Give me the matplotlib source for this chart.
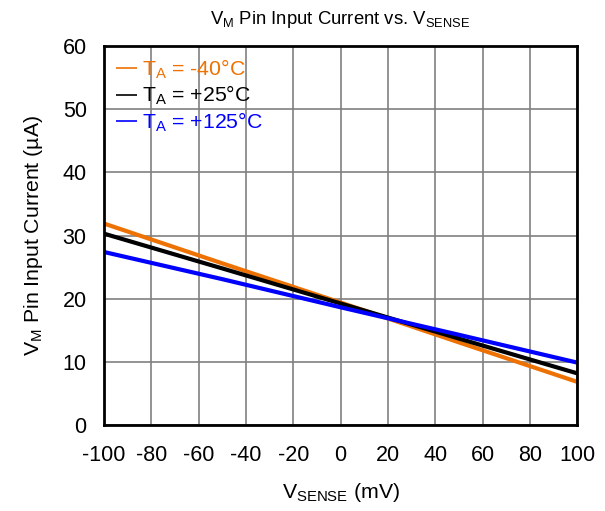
import numpy as np
import matplotlib.pyplot as plt

plt.rcParams['font.family'] = ['Liberation Sans', 'DejaVu Sans']
plt.rcParams['axes.unicode_minus'] = False

# V_SENSE (mV) and pin current (uA) per ambient temperature
vsense = [-100, -50, 0, 50, 100]
i_m40 = [31.9, 25.6, 19.4, 13.1, 6.85]
i_25 = [30.3, 24.8, 19.25, 13.7, 8.2]
i_125 = [27.4, 23.1, 18.65, 14.3, 9.9]

labels = [r'$\mathregular{T_A}$ = -40°C', r'$\mathregular{T_A}$ = +25°C', r'$\mathregular{T_A}$ = +125°C']
colors = ['#ee7203', 'black', 'blue']

fig = plt.figure(figsize=(6.05, 5.11), dpi=100)
ax = fig.add_axes([0.172, 0.168, 0.782, 0.742])

for y, c, lab in zip([i_m40, i_25, i_125], colors, labels):
    ax.plot(vsense, y, color=c, lw=3, label=lab, solid_capstyle='butt')

ax.set_xlim(-100, 100)
ax.set_ylim(0, 60)
ax.set_xticks(np.arange(-100, 101, 20))
ax.set_yticks(np.arange(0, 61, 10))
ax.grid(True, color='#808080', lw=1.2)
ax.set_axisbelow(True)
ax.tick_params(axis='x', length=0, labelsize=15.5, pad=14)
ax.tick_params(axis='y', length=0, labelsize=15.5, pad=12.5)
for s in ax.spines.values():
    s.set_linewidth(2)

ax.set_title(r'$\mathregular{V_M}$ Pin Input Current vs. $\mathregular{V_{SENSE}}$', fontsize=13.3, pad=16)
ax.set_xlabel(r'$\mathregular{V_{SENSE}}$ (mV)', fontsize=15.3, labelpad=11)
ax.set_ylabel(r'$\mathregular{V_M}$ Pin Input Current (µA)', fontsize=15.3, labelpad=13)

leg = ax.legend(loc='upper left', frameon=False, fontsize=15.3, handlelength=1.0,
                handletextpad=0.25, labelspacing=0.15, borderaxespad=0.15)
for h in leg.get_lines():
    h.set_linewidth(1.2)
for t, c in zip(leg.get_texts(), colors):
    t.set_color(c)

fig.savefig('out.png', dpi=100)
